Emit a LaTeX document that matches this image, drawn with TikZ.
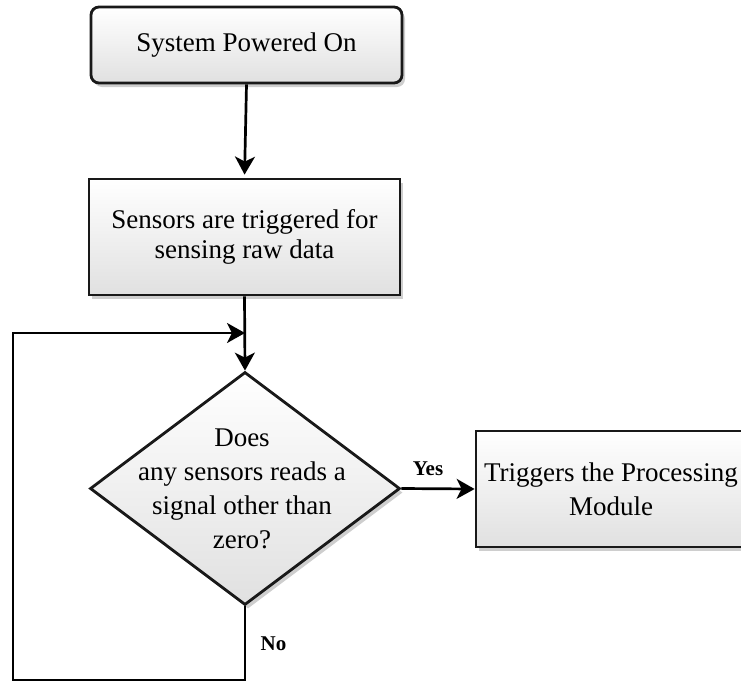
\documentclass[tikz,border=0pt]{standalone}
\usepackage{fontspec}
\setmainfont{Liberation Serif}
\usetikzlibrary{shapes.geometric,shadows,arrows.meta}
\begin{document}
\begin{tikzpicture}[x=1pt,y=1pt,
  softshadow/.style={drop shadow={shadow xshift=3pt,shadow yshift=-4pt,fill=black!35,opacity=0.55}},
  stepbox/.style={draw=black!90, line width=2.8pt, top color=white, bottom color=black!12,
    softshadow, inner sep=0pt, align=center, font=\fontsize{27}{30}\selectfont},
  decision/.style={diamond, draw=black!90, line width=2.8pt, top color=white, bottom color=black!12,
    softshadow, inner sep=0pt, minimum width=310pt, minimum height=233pt},
  conn/.style={line width=2.7pt, -{Stealth[length=18pt,width=20pt,inset=5pt]}},
  lbl/.style={font=\fontsize{21}{24}\selectfont\bfseries, inner sep=0pt}
]
\clip (0,0) rectangle (741,-683);

% process steps
\node[stepbox, rounded corners=8pt, minimum width=311pt, minimum height=76pt]
  (start) at (246.5,-45) {System Powered On};
\node[stepbox, minimum width=311pt, minimum height=116pt]
  (sense) at (244.5,-237) {Sensors are triggered for\\sensing raw data};
\node[decision] (check) at (245,-488.5) {};
\node[align=center, inner sep=0pt, font=\fontsize{27}{34}\selectfont]
  (checktext) at ([xshift=-3pt]check.center) {Does\\any sensors reads a\\signal other than\\zero?};
\node[stepbox, font=\fontsize{27}{34}\selectfont, minimum width=270pt, minimum height=116pt]
  (proc) at (611,-489) {Triggers the Processing\\Module};

% loop-back route
\coordinate (loopbot) at (13,-680);
\coordinate (looptop) at (13,-333);
\coordinate (join) at (245,-333);

% connectors
\draw[conn, shorten >=3pt] (start.south) -- (sense.north);
\draw[conn] (sense.south) -- (check.north);
\draw[conn] (check.east) -- (proc.west);
\draw[conn] (check.south) |- (loopbot) -- (looptop) -- (join);

% branch labels
\node[lbl, anchor=base] (yes) at (428,-475) {Yes};
\node[lbl, anchor=base] (no) at (273.5,-650) {No};
\end{tikzpicture}
\end{document}
